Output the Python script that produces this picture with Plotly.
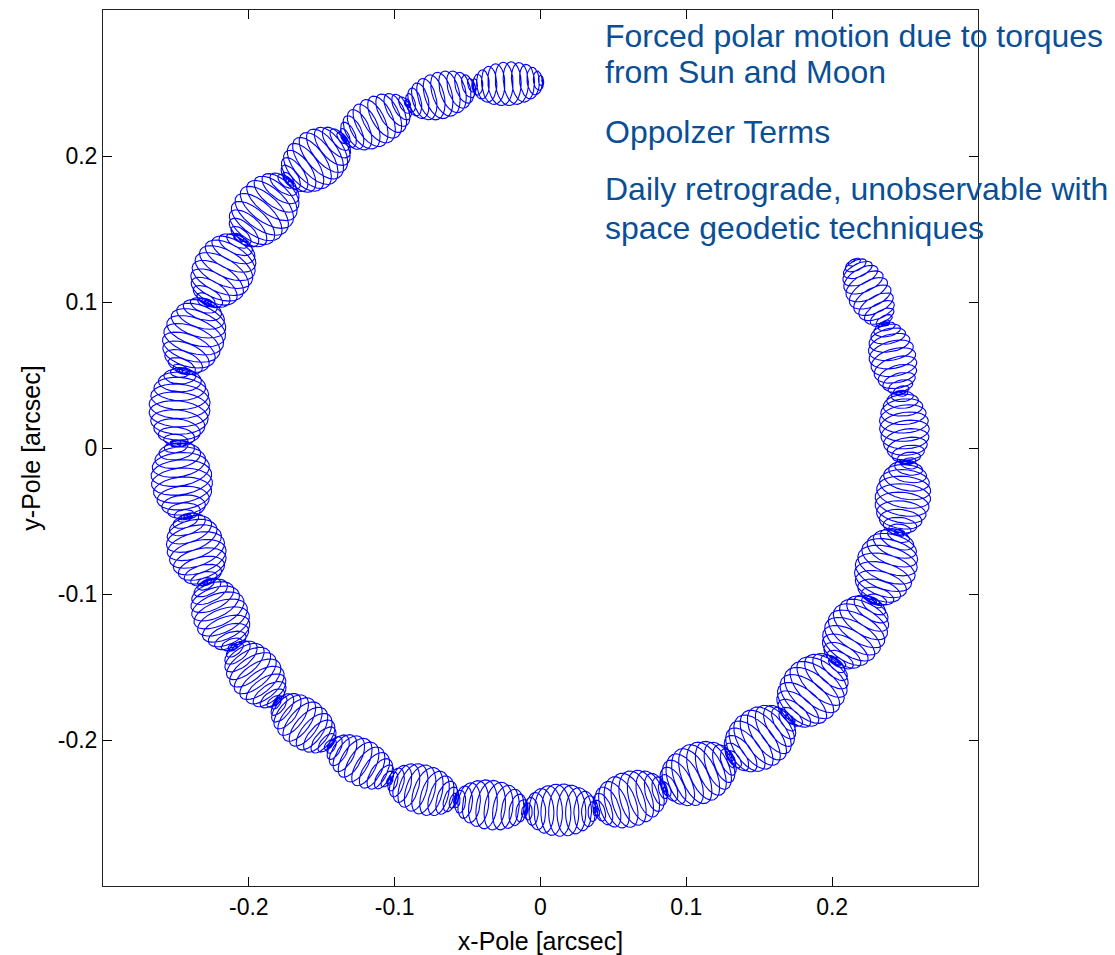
import numpy as np
import plotly.graph_objects as go

# Junction points between successive fortnightly envelopes of the pole path [arcsec]
knot_x = [0.001, -0.046, -0.091, -0.135, -0.173, -0.206, -0.229, -0.246, -0.249,
          -0.243, -0.229, -0.210, -0.181, -0.144, -0.103, -0.058, -0.010, 0.038,
          0.085, 0.131, 0.170, 0.203, 0.229, 0.245, 0.252, 0.247, 0.236, 0.214]
knot_y = [0.251, 0.248, 0.235, 0.212, 0.183, 0.143, 0.100, 0.053, 0.003,
          -0.047, -0.092, -0.136, -0.174, -0.203, -0.227, -0.241, -0.248, -0.248,
          -0.233, -0.213, -0.185, -0.147, -0.105, -0.058, -0.010, 0.038, 0.085, 0.128]

# Radial half-width of each fortnightly envelope [arcsec]
envelope_halfwidth = [0.015, 0.016, 0.017, 0.020, 0.021, 0.021, 0.021, 0.021, 0.021,
                      0.020, 0.019, 0.018, 0.017, 0.016, 0.017, 0.017, 0.018, 0.019,
                      0.021, 0.021, 0.022, 0.021, 0.021, 0.019, 0.017, 0.016, 0.015]

days_per_envelope = 13.66     # fortnightly beat, in days
samples_per_day = 24          # hourly sampling
loop_ratio = 0.5              # tangential / radial size of a daily loop

tick_vals = [-0.2, -0.1, 0, 0.1, 0.2]
tick_text = ["-0.2", "-0.1", "0", "0.1", "0.2"]

note_lines = ["Forced polar motion due to torques", "from Sun and Moon",
              "Oppolzer Terms",
              "Daily retrograde, unobservable with", "space geodetic techniques"]
note_y = [0.2825, 0.2575, 0.2165, 0.1775, 0.1505]

# Build the pole path: daily retrograde loops riding along each envelope
xs, ys = [], []
n_env = len(envelope_halfwidth)
n_per = int(round(days_per_envelope * samples_per_day))
for k in range(n_env):
    x0, y0 = knot_x[k], knot_y[k]
    x1, y1 = knot_x[k + 1], knot_y[k + 1]
    dx, dy = x1 - x0, y1 - y0
    length = np.hypot(dx, dy)
    tx, ty = dx / length, dy / length
    nx, ny = -ty, tx
    s = np.linspace(0.0, np.pi, n_per, endpoint=(k == n_env - 1))
    days = (k + s / np.pi) * days_per_envelope
    phi = 2 * np.pi * days
    amp = np.sin(s)
    b = envelope_halfwidth[k]
    a = loop_ratio * b
    along = 0.5 * length * (1 - np.cos(s))
    u = along + a * amp * np.cos(phi)
    v = -b * amp * np.sin(phi)
    xs.append(x0 + u * tx + v * nx)
    ys.append(y0 + u * ty + v * ny)
xs = np.concatenate(xs)
ys = np.concatenate(ys)

fig = go.Figure()
fig.add_trace(go.Scatter(x=xs, y=ys, mode="lines",
                         line=dict(color="#0000ff", width=1.1),
                         hoverinfo="skip", showlegend=False))

font_main = "Liberation Sans, Arial, Helvetica, sans-serif"
axis_common = dict(
    range=[-0.3, 0.3], tickmode="array", tickvals=tick_vals, ticktext=tick_text,
    ticks="inside", ticklen=9, tickwidth=1, tickcolor="#000000",
    showline=True, linecolor="#222222", linewidth=1, mirror="allticks",
    showgrid=False, zeroline=False, automargin=False,
    tickfont=dict(family=font_main, size=23, color="#000000"),
)
fig.update_xaxes(**axis_common,
                 title=dict(text="x-Pole [arcsec]", standoff=14,
                            font=dict(family=font_main, size=25, color="#000000")))
fig.update_yaxes(**axis_common,
                 title=dict(text="y-Pole [arcsec]", standoff=10,
                            font=dict(family=font_main, size=25, color="#000000")))

for text, yv in zip(note_lines, note_y):
    fig.add_annotation(x=0.043, y=yv, xref="x", yref="y", text=text,
                       showarrow=False, xanchor="left", yanchor="middle",
                       font=dict(family=font_main, size=32, color="#0a4f96"))

fig.update_layout(
    width=1115, height=955,
    margin=dict(l=103, r=137, t=10, b=69),
    paper_bgcolor="#ffffff", plot_bgcolor="#ffffff",
    showlegend=False,
)

fig.write_html("out.html")
